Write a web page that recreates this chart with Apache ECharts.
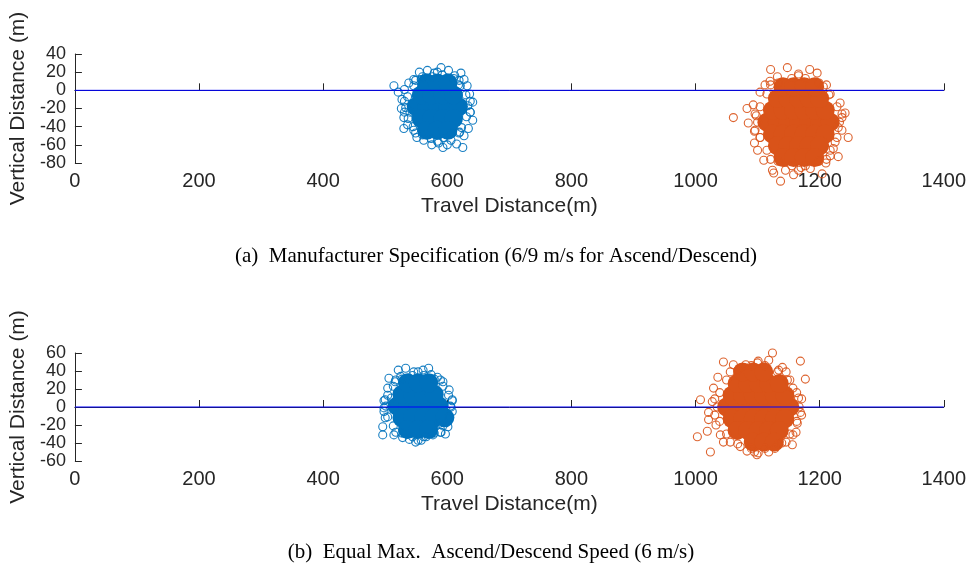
<!DOCTYPE html>
<html><head><meta charset="utf-8">
<script src="https://cdn.jsdelivr.net/npm/echarts@6/dist/echarts.min.js"></script>
<style>html,body{margin:0;padding:0;background:#fff}#c{width:969px;height:569px}</style>
</head><body><div id="c"></div>
<script>
// ---- data ----
const xTicks = [0, 200, 400, 600, 800, 1000, 1200, 1400];
const yTicksA = [-80, -60, -40, -20, 0, 20, 40];
const yTicksB = [-60, -40, -20, 0, 20, 40, 60];
const zeroLineX = [0, 1400];
const zeroLineY = [0, 0];
const captionA = "(a)  Manufacturer Specification (6/9 m/s for Ascend/Descend)";
const captionB = "(b)  Equal Max.  Ascend/Descend Speed (6 m/s)";

// (a) ascend cloud (dense core + fringe)
const aBlueCore = [[550,-18],[567,-18],[584,-18],[601,-18],[618,-18],
  [558,-5],[575,-5],[593,-5],[610,-5],[558,-31],[575,-31],[593,-31],[610,-31],
  [567,8],[584,8],[601,8],[567,-44],[584,-44],[601,-44]];
const aBlueRing = [[633,-17],[630,-5],[621,5],[610,13],[592,17],[576,15],[558,12],[546,5],[536,-7],[533,-19],
  [537,-31],[545,-40],[560,-49],[574,-53],[594,-52],[608,-47],[623,-41],[631,-29],
  [637,-12],[619,11],[584,20],[549,11],[531,-12],[531,-24],[549,-47],[584,-56],[619,-47],[637,-24]];
const aBlueEdge = [[514,5],[521,-2],[527,-10],[526,-20],[530,-30],[536,-38],[546,-44],[551,-52],[562,-55],[575,-60],
  [586,-58],[593,-63],[606,-55],[615,-59],[625,-63],[627,-50],[634,-42],[641,-33],[637,-24],[641,-13],
  [636,-4],[632,5],[627,12],[622,19],[612,16],[602,22],[590,25],[579,19],[568,22],[555,20],
  [546,12],[538,8],[531,1],[620,-46],[540,-24],[618,6],[600,-60],[560,15],[530,-42]];
// (a) descend cloud
const aOrangeCore = [[1115,-35],[1132,-35],[1149,-35],[1166,-35],[1183,-35],[1200,-35],[1217,-35],
  [1124,-22],[1141,-22],[1158,-22],[1175,-22],[1192,-22],[1209,-22],
  [1124,-48],[1141,-48],[1158,-48],[1175,-48],[1192,-48],[1209,-48],
  [1132,-9],[1149,-9],[1166,-9],[1183,-9],[1200,-9],
  [1132,-61],[1149,-61],[1166,-61],[1183,-61],[1200,-61],
  [1141,4],[1158,4],[1175,4],[1192,4],[1141,-74],[1158,-74],[1175,-74],[1192,-74]];
const aOrangeRing = [[1232,-35],[1228,-18],[1217,-4],[1199,8],[1177,13],[1155,13],[1133,8],[1115,-4],[1104,-18],[1100,-35],
  [1104,-52],[1115,-66],[1133,-78],[1155,-83],[1177,-83],[1199,-78],[1217,-66],[1228,-52],
  [1236,-26],[1211,6],[1166,18],[1121,6],[1096,-26],[1096,-44],[1121,-76],[1166,-88],[1211,-76],[1236,-44]];
const aOrangeEdge = [[1061,-30],[1083,-20],[1085,-36],[1093,-16],[1104,-2],[1100,-66],[1104,-52],[1110,-77],[1124,-88],[1126,-91],
  [1137,-100],[1158,-93],[1185,-86],[1204,-92],[1222,-64],[1230,-73],[1217,-72],[1225,-57],[1230,-41],[1246,-52],
  [1241,-25],[1233,-14],[1206,4],[1196,19],[1184,23],[1166,16],[1148,25],[1132,15],[1121,23],[1112,6],
  [1095,-45],[1098,-28],[1236,-30],[1215,-5],[1145,-88],[1170,-85],[1095,-58],[1210,-80],[1120,10]];

// (b) ascend cloud
const bBlueCore = [[519,1],[536,1],[553,1],[570,1],[587,1],
  [527,14],[544,14],[562,14],[579,14],[527,-12],[544,-12],[562,-12],[579,-12],[596,-12],
  [536,27],[553,27],[570,27],[536,-25],[553,-25],[570,-25]];
const bBlueRing = [[605,1],[602,13],[593,23],[579,31],[562,35],[544,35],[527,31],[513,23],[504,13],[501,1],
  [504,-11],[513,-21],[527,-29],[544,-33],[562,-33],[579,-29],[593,-21],[602,-11],
  [608,7],[589,30],[553,39],[517,30],[498,7],[498,-5],[517,-28],[553,-37],[589,-28],[608,-5]];
const bBlueEdge = [[521,41],[533,43],[546,39],[561,41],[506,32],[593,28],[603,19],[606,0],[604,-11],[601,-22],
  [590,-28],[496,-31],[496,-22],[498,-1],[504,21],[514,-31],[528,-34],[549,-39],[566,-33],[577,-31],
  [587,-18],[510,10],[500,8],[574,36],[584,33],[516,28],[608,8],[539,-36],[558,-37],[500,-12],
  [597,-30],[570,43],[525,34]];
// (b) descend cloud
const bOrangeCore = [[1050,0],[1067,0],[1084,0],[1101,0],[1118,0],[1135,0],[1152,0],
  [1059,13],[1076,13],[1093,13],[1110,13],[1127,13],[1144,13],
  [1059,-13],[1076,-13],[1093,-13],[1110,-13],[1127,-13],[1144,-13],
  [1067,26],[1084,26],[1101,26],[1118,26],[1135,26],
  [1067,-26],[1084,-26],[1101,-26],[1118,-26],[1135,-26],
  [1076,39],[1093,39],[1110,39],[1093,-39],[1110,-39],[1127,-39]];
const bOrangeRing = [[1167,0],[1163,16],[1152,30],[1134,41],[1112,46],[1090,46],[1068,41],[1050,30],[1039,16],[1035,0],
  [1039,-16],[1050,-30],[1068,-41],[1090,-46],[1112,-46],[1134,-41],[1152,-30],[1163,-16],
  [1171,9],[1146,39],[1101,51],[1056,39],[1031,9],[1031,-9],[1056,-39],[1101,-51],[1146,-39],[1171,-9]];
const bOrangeEdge = [[1124,60],[1118,52],[1169,51],[1177,31],[1045,50],[1061,47],[1081,47],[1036,33],[1132,39],[1148,30],
  [1157,21],[1166,10],[1169,-6],[1164,-18],[1157,-31],[1156,-42],[1139,-40],[1118,-50],[1099,-53],[1083,-49],
  [1072,-44],[1024,-50],[1003,-33],[1019,-27],[1008,8],[1021,-6],[1021,-14],[1040,-31],[1045,-39],[1029,21],
  [1027,6],[1100,49],[1140,44],[1095,-50],[1128,-46],[1033,-20],[1162,-28]];

// ---- chart ----
const BLUE = '#0072BD', ORANGE = '#D95319', AX = '#262626';
const chart = echarts.init(document.getElementById('c'), null, {renderer: 'canvas'});
function xAx(i) {
  return {
    type: 'value', gridIndex: i, min: xTicks[0], max: xTicks[xTicks.length - 1], interval: xTicks[1] - xTicks[0],
    name: 'Travel Distance(m)', nameLocation: 'middle', nameGap: 33,
    nameTextStyle: {color: AX, fontSize: 21, fontFamily: 'Liberation Sans'},
    axisLine: {lineStyle: {color: AX, width: 1}},
    axisTick: {inside: true, length: 7, lineStyle: {color: AX}},
    axisLabel: {color: AX, fontSize: 20, fontFamily: 'Liberation Sans', margin: 8, formatter: v => String(v)},
    splitLine: {show: false}
  };
}
function yAx(i, ticks) {
  return {
    type: 'value', gridIndex: i, min: ticks[0], max: ticks[ticks.length - 1], interval: ticks[1] - ticks[0],
    name: 'Vertical Distance (m)', nameLocation: 'middle', nameGap: 44,
    nameTextStyle: {color: AX, fontSize: 21, fontFamily: 'Liberation Sans'},
    axisLine: {show: true, lineStyle: {color: AX, width: 1}},
    axisTick: {show: true, inside: true, length: 7, lineStyle: {color: AX}},
    axisLabel: {color: AX, fontSize: 18, fontFamily: 'Liberation Sans', margin: 9, formatter: v => String(v)},
    splitLine: {show: false}
  };
}
function core(data, color, i) {
  return {type: 'scatter', xAxisIndex: i, yAxisIndex: i, data: data, symbol: 'circle', symbolSize: 19,
    itemStyle: {color: color, opacity: 1}, clip: false, z: 2, silent: true};
}
function edge(data, color, i) {
  return {type: 'scatter', xAxisIndex: i, yAxisIndex: i, data: data, symbol: 'circle', symbolSize: 8,
    itemStyle: {color: 'rgba(255,255,255,0)', borderColor: color, borderWidth: 1.1, opacity: 0.9}, clip: false, z: 3, silent: true};
}
function zero(i) {
  return {type: 'line', xAxisIndex: i, yAxisIndex: i, data: zeroLineX.map((x, k) => [x, zeroLineY[k]]),
    symbol: 'none', lineStyle: {color: '#0000FF', width: 1}, z: 5, silent: true};
}
chart.setOption({
  animation: false,
  backgroundColor: '#fff',
  title: [
    {text: captionA, left: 491, top: 241, textAlign: 'center',
     textStyle: {fontFamily: 'Liberation Serif', fontSize: 21, fontWeight: 'normal', color: '#000'}},
    {text: captionB, left: 486, top: 537, textAlign: 'center',
     textStyle: {fontFamily: 'Liberation Serif', fontSize: 21, fontWeight: 'normal', color: '#000'}}
  ],
  grid: [
    {left: 73, right: 25, top: 54, height: 109, containLabel: false},
    {left: 73, right: 25, top: 353, height: 108, containLabel: false}
  ],
  xAxis: [xAx(0), xAx(1)],
  yAxis: [yAx(0, yTicksA), yAx(1, yTicksB)],
  series: [
    core(aBlueCore, BLUE, 0), edge(aBlueRing, BLUE, 0), edge(aBlueEdge, BLUE, 0),
    core(aOrangeCore, ORANGE, 0), edge(aOrangeRing, ORANGE, 0), edge(aOrangeEdge, ORANGE, 0),
    zero(0),
    core(bBlueCore, BLUE, 1), edge(bBlueRing, BLUE, 1), edge(bBlueEdge, BLUE, 1),
    core(bOrangeCore, ORANGE, 1), edge(bOrangeRing, ORANGE, 1), edge(bOrangeEdge, ORANGE, 1),
    zero(1)
  ]
});
</script></body></html>
